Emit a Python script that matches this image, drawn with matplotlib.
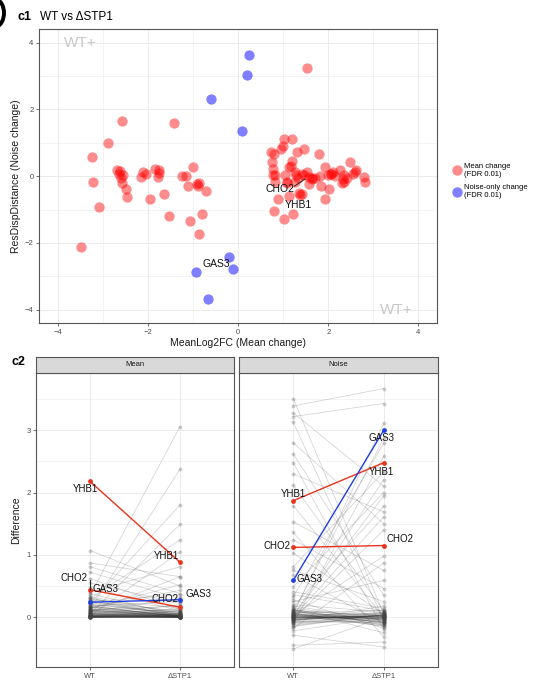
import matplotlib
matplotlib.use('Agg')
import matplotlib.pyplot as plt
from matplotlib.lines import Line2D
from matplotlib.patches import Arc

plt.rcParams['font.family'] = ['Liberation Sans', 'DejaVu Sans']

# ---------------- c1 data ----------------
mean_chg_x = [-3.48, -3.23, -3.21, -3.07, -2.89, -2.56, -1.42,
              -2.69, -2.62, -2.64, -2.55, -2.60, -2.56, -2.48, -2.46,
              -2.11, -2.14, -2.03, -1.83, -1.76, -1.77, -1.74,
              -1.94, -1.65, -1.53,
              -1.25, -1.15, -1.00, -1.10, -0.91, -0.86, -0.88, -0.72,
              -1.06, -0.80, -0.87,
              1.54,
              0.73, 0.80, 0.95, 0.99, 1.03, 1.20, 1.31, 1.46, 1.79,
              1.20, 0.75, 2.48, 1.14, 1.17, 1.93,
              0.78, 2.27, 2.61, 2.55, 2.59,
              0.77, 0.82, 1.04, 1.29, 1.26, 1.34, 1.41, 1.47, 1.52, 1.58, 1.64, 1.63, 1.70,
              1.82, 2.00, 2.05, 2.07, 2.11, 2.15, 2.36, 2.42, 2.80,
              2.81, 2.36, 2.30, 2.33,
              0.81, 1.08, 1.26, 1.58, 1.84, 2.02, 1.09,
              1.36, 1.42, 1.38, 1.12,
              0.88, 1.93,
              0.80, 1.03, 1.21]
mean_chg_y = [-2.11, 0.57, -0.18, -0.93, 0.99, 1.65, 1.60,
              0.19, 0.14, 0.07, 0.02, -0.05, -0.19, -0.37, -0.63,
              0.11, -0.03, 0.05, 0.21, 0.18, -0.03, 0.08,
              -0.68, -0.54, -1.18,
              0.01, 0.01, 0.26, -0.28, -0.23, -0.21, -0.28, -0.45,
              -1.34, -1.14, -1.72,
              3.23,
              0.71, 0.66, 0.81, 0.91, 1.12, 1.12, 0.71, 0.81, 0.66,
              0.46, 0.41, 0.42, 0.26, 0.31, 0.27,
              0.21, 0.19, 0.17, 0.07, 0.12,
              0.02, 0.04, 0.02, 0.04, 0.11, -0.05, 0.06, 0.02, 0.11, -0.03, -0.09, -0.05, -0.06,
              0.00, 0.02, 0.05, 0.07, 0.11, 0.01, 0.04, -0.04, -0.03,
              -0.18, -0.16, -0.19, -0.09,
              -0.17, -0.16, -0.16, -0.24, -0.28, -0.38, -0.21,
              -0.49, -0.53, -0.57, -0.60,
              -0.69, -0.68,
              -1.04, -1.28, -1.13]
noise_only_x = [0.25, 0.20, -0.59, 0.09, -0.21, -0.11, -0.93, -0.66]
noise_only_y = [3.64, 3.02, 2.30, 1.36, -2.42, -2.79, -2.87, -3.69]

# ---------------- c2 data ----------------
conditions = ['WT', 'ΔSTP1']
gray_mean_wt = [0.35, 0.12, 0.22, 0.05, 0.30, 0.02, 1.07, 0.87, 0.81, 0.72,
                0.62, 0.40, 0.08, 0.15, 0.55, 0.48, 0.33, 0.28, 0.25, 0.20,
                0.18, 0.16, 0.14, 0.11, 0.10, 0.09, 0.07, 0.06, 0.05, 0.04,
                0.03, 0.03, 0.02, 0.02, 0.01, 0.01, 0.01, 0.00, 0.00, 0.00,
                0.00, 0.00, 0.38, 0.26, 0.19, 0.13, 0.09, 0.04, 0.02, 0.01,
                0.00, 0.00, 0.00, 0.01, 0.03, 0.06, 0.12, 0.17, 0.23, 0.31,
                0.00, 0.01, 0.02, 0.03, 0.04, 0.05, 0.06, 0.08, 0.10, 0.12,
                0.14, 0.16, 0.18, 0.21, 0.24, 0.27, 0.30, 0.00, 0.01, 0.02,
                0.03, 0.05, 0.07, 0.09, 0.11, 0.13, 0.00, 0.01, 0.02, 0.04]
gray_mean_d = [3.06, 2.38, 1.80, 1.49, 1.24, 1.05, 0.50, 0.65, 0.38, 0.30,
               0.12, 0.81, 0.65, 0.43, 0.22, 0.10, 0.05, 0.15, 0.36, 0.08,
               0.25, 0.02, 0.52, 0.18, 0.03, 0.30, 0.12, 0.01, 0.20, 0.06,
               0.00, 0.09, 0.14, 0.02, 0.04, 0.00, 0.07, 0.01, 0.03, 0.00,
               0.05, 0.11, 0.02, 0.01, 0.00, 0.06, 0.02, 0.00, 0.01, 0.00,
               0.00, 0.02, 0.04, 0.00, 0.01, 0.03, 0.00, 0.01, 0.04, 0.00,
               0.01, 0.00, 0.03, 0.01, 0.02, 0.00, 0.04, 0.01, 0.06, 0.02,
               0.03, 0.08, 0.01, 0.05, 0.10, 0.02, 0.07, 0.00, 0.02, 0.01,
               0.00, 0.03, 0.01, 0.04, 0.00, 0.02, 0.00, 0.01, 0.00, 0.02]
gray_noise_wt = [3.51, 3.39, 3.28, 3.22, 3.13, 2.80, 2.62, 2.48, 2.30, 2.12,
                 1.79, 1.53, 1.36, 1.24, 1.03, 0.81, 0.75, 0.67, 0.49, 0.41,
                 0.33, 0.25, 0.17, 0.10, 0.05, -0.10, -0.18, -0.29, -0.45, -0.51,
                 0.02, 0.00, -0.03, 0.03, 0.08, 0.12, -0.05, 0.06, -0.02, 0.04,
                 -0.08, 0.01, -0.12, 0.15, 0.20, -0.04, 0.07, -0.01, 0.09, -0.06,
                 0.00, 0.03, -0.07, 0.11, 0.05, -0.14, 0.28, 0.36, -0.22, 0.02,
                 0.01, -0.02, 0.04, -0.05, 0.06, -0.09, 0.10, -0.01, 0.03, -0.04,
                 0.08, -0.11, 0.13, 0.00, -0.06, 0.05, -0.03, 0.02, 0.07, -0.08,
                 0.01, -0.02, 0.12, -0.15, 0.04, 0.00, 0.18, -0.01, 0.03, -0.04]
gray_noise_d = [0.05, 3.67, 2.10, 3.43, -0.05, 1.50, 0.35, -0.20, 1.69, 0.10,
                0.00, 0.75, -0.32, 0.46, 0.05, 2.33, 0.25, -0.10, 2.00, 0.14,
                2.79, 0.59, 1.78, 0.02, 3.11, 2.58, 0.87, -0.48, -0.40, 0.00,
                2.21, 1.61, 1.40, 0.98, 2.87, -0.25, 0.06, -0.08, 0.12, -0.03,
                0.04, -0.12, 0.00, -0.06, 0.08, 0.03, -0.15, 0.01, -0.04, 0.18,
                -0.02, 0.07, -0.09, 0.02, -0.11, 0.05, -0.18, 0.10, 0.00, 1.95,
                -0.04, 0.02, -0.07, 0.05, -0.01, 0.03, -0.10, 0.00, -0.05, 0.08,
                -0.02, 0.04, -0.13, 0.01, 0.06, -0.08, 0.02, -0.03, 0.11, -0.06,
                0.00, 0.03, -0.09, 0.04, -0.02, 0.07, -0.05, 0.01, -0.14, 0.02]

hl_genes = ['YHB1', 'CHO2', 'GAS3']
hl_colors = ['#E8341C', '#E8341C', '#1F3FE0']
hl_mean_wt = [2.18, 0.44, 0.24]
hl_mean_d = [0.88, 0.16, 0.28]
hl_noise_wt = [1.87, 1.12, 0.59]
hl_noise_d = [2.48, 1.15, 3.00]

# ---------------- figure ----------------
W, H = 545, 680
fig = plt.figure(figsize=(W / 100, H / 100), dpi=100)

def fx(px):
    return px / W

def fy(py):
    return 1 - py / H

grid_c = '#EBEBEB'
border_c = '#555555'
tick_c = '#4D4D4D'

def style_axes(ax):
    for s in ax.spines.values():
        s.set_color(border_c)
        s.set_linewidth(0.8)
    ax.tick_params(axis='both', which='major', length=2.5, width=0.5, color='#333333',
                   labelsize=5.5, labelcolor=tick_c, pad=1.5)
    ax.tick_params(axis='both', which='minor', length=0)
    ax.grid(True, which='major', color=grid_c, linewidth=0.7, zorder=0)
    ax.grid(True, which='minor', color=grid_c, linewidth=0.4, zorder=0)
    ax.set_axisbelow(True)

# ---- c1 ----
ax1 = fig.add_axes([fx(39), fy(323), fx(437) - fx(39), fy(29) - fy(323)])
style_axes(ax1)
ax1.set_xlim(-4.41, 4.41)
ax1.set_ylim(-4.4, 4.41)
ax1.set_xticks([-4, -2, 0, 2, 4])
ax1.set_yticks([-4, -2, 0, 2, 4])
ax1.set_xticks([-3, -1, 1, 3], minor=True)
ax1.set_yticks([-3, -1, 1, 3], minor=True)
ax1.scatter(mean_chg_x, mean_chg_y, s=55, c='#FF0000', alpha=0.45, linewidths=0, zorder=3)
ax1.scatter(noise_only_x, noise_only_y, s=55, c='#0000FF', alpha=0.5, linewidths=0, zorder=3)
ax1.set_xlabel('MeanLog2FC (Mean change)', fontsize=7.5, labelpad=2, color='#1A1A1A')
ax1.set_ylabel('ResDispDistance (Noise change)', fontsize=7.5, labelpad=3, color='#1A1A1A')
ax1.text(-3.5, 4.0, 'WT+', fontsize=11, color='#C8C8C8', ha='center', va='center')
ax1.text(3.5, -4.0, 'WT+', fontsize=11, color='#C8C8C8', ha='center', va='center')
ax1.text(0.93, -0.38, 'CHO2', fontsize=7.5, ha='center', va='center', color='#111111', zorder=5)
ax1.plot([1.25, 1.48], [-0.30, -0.09], color='#111111', lw=0.6, zorder=5)
ax1.text(1.34, -0.87, 'YHB1', fontsize=7.5, ha='center', va='center', color='#111111', zorder=5)
ax1.text(-0.49, -2.63, 'GAS3', fontsize=7.5, ha='center', va='center', color='#111111', zorder=5)

fig.text(fx(18), fy(17), 'c1', fontsize=9, fontweight='bold', va='center', ha='left')
fig.text(fx(40), fy(17), 'WT vs ΔSTP1', fontsize=8.5, va='center', ha='left')
# cut-off bracket of the previous panel label
fig.add_artist(Arc((-0.07, (H - 13) / 100), 0.22, 0.30, theta1=-75, theta2=75,
                   transform=fig.dpi_scale_trans, color='black', lw=2.8))

handles = [Line2D([], [], marker='o', linestyle='', markersize=7.5, markerfacecolor='#FF0000',
                  markeredgewidth=0, alpha=0.45),
           Line2D([], [], marker='o', linestyle='', markersize=7.5, markerfacecolor='#0000FF',
                  markeredgewidth=0, alpha=0.5)]
fig.legend(handles, ['Mean change\n(FDR 0.01)', 'Noise-only change\n(FDR 0.01)'],
           loc='center left', bbox_to_anchor=(fx(449), fy(181)), frameon=False,
           fontsize=5.5, handletextpad=0.3, labelspacing=0.9, borderaxespad=0,
           handlelength=1.2)

# ---- c2 ----
fig.text(fx(12), fy(362), 'c2', fontsize=9, fontweight='bold', va='center', ha='left')

panels = [('Mean', 36, 234, gray_mean_wt, gray_mean_d, hl_mean_wt, hl_mean_d),
          ('Noise', 239, 438, gray_noise_wt, gray_noise_d, hl_noise_wt, hl_noise_d)]
axes2 = []
for i, (name, x0, x1, gwt, gd, hwt, hd) in enumerate(panels):
    ax = fig.add_axes([fx(x0), fy(667), fx(x1) - fx(x0), fy(373) - fy(667)])
    style_axes(ax)
    ax.set_xlim(0.4, 2.6)
    ax.set_ylim(-0.80, 3.92)
    ax.set_xticks([1, 2])
    ax.set_xticklabels(conditions)
    ax.set_yticks([0, 1, 2, 3])
    ax.set_yticks([-0.5, 0.5, 1.5, 2.5, 3.5], minor=True)
    if i > 0:
        ax.tick_params(axis='y', which='both', labelleft=False, length=0)
    for a, b in zip(gwt, gd):
        ax.plot([1, 2], [a, b], color='#333333', alpha=0.2, lw=0.6, zorder=2)
    ax.scatter([1] * len(gwt), gwt, s=8, c='#444444', alpha=0.25, linewidths=0, zorder=2)
    ax.scatter([2] * len(gd), gd, s=8, c='#444444', alpha=0.25, linewidths=0, zorder=2)
    for a, b, col in zip(hwt, hd, hl_colors):
        ax.plot([1, 2], [a, b], color=col, lw=1.0, zorder=4)
        ax.scatter([1, 2], [a, b], s=12, c=col, linewidths=0, zorder=5)
    # strip
    sax = fig.add_axes([fx(x0), fy(373), fx(x1) - fx(x0), fy(357) - fy(373)])
    sax.set_facecolor('#D9D9D9')
    sax.set_xticks([])
    sax.set_yticks([])
    for s in sax.spines.values():
        s.set_color(border_c)
        s.set_linewidth(0.8)
    sax.text(0.5, 0.5, name, fontsize=5.5, ha='center', va='center', color='#1A1A1A',
             transform=sax.transAxes)
    axes2.append(ax)

axm, axn = axes2
axm.set_ylabel('Difference', fontsize=7.5, labelpad=4, color='#1A1A1A')
lab_kw = dict(fontsize=7, ha='center', va='center', color='#111111', zorder=6)
axm.text(0.95, 2.06, 'YHB1', **lab_kw)
axm.text(1.845, 0.98, 'YHB1', **lab_kw)
axm.text(0.817, 0.63, 'CHO2', **lab_kw)
axm.plot([1.0, 1.0], [0.60, 0.44], color='#111111', lw=0.6, zorder=6)
axm.text(1.176, 0.45, 'GAS3', **lab_kw)
axm.text(1.83, 0.29, 'CHO2', **lab_kw)
axm.text(2.20, 0.37, 'GAS3', **lab_kw)

axn.text(1.0, 1.98, 'YHB1', **lab_kw)
axn.text(1.98, 2.33, 'YHB1', **lab_kw)
axn.text(1.97, 2.87, 'GAS3', **lab_kw)
axn.text(0.82, 1.15, 'CHO2', **lab_kw)
axn.text(2.18, 1.25, 'CHO2', **lab_kw)
axn.text(1.18, 0.62, 'GAS3', **lab_kw)

fig.savefig('out.png', dpi=100)
